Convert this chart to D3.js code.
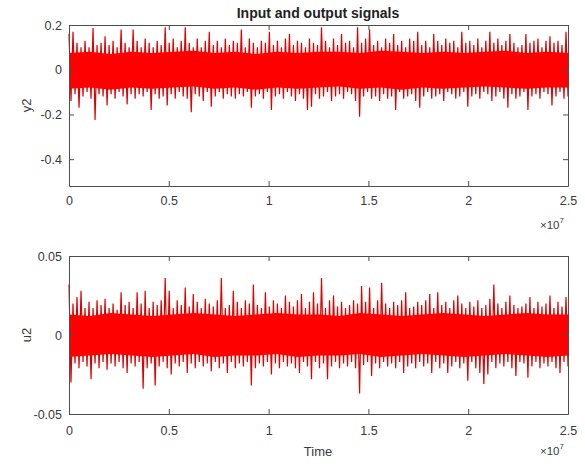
<!DOCTYPE html>
<html>
<head>
<meta charset="utf-8">
<script src="https://cdn.jsdelivr.net/npm/d3@7"></script>
<style>
  body { margin: 0; background: #fff; }
  svg { display: block; font-family: "Liberation Sans", Arial, sans-serif; }
</style>
</head>
<body>
<svg id="fig" width="585" height="471"></svg>
<script>
// time axis (samples), shared by both panels
const T_END = 2.5e7;
const xTicks = [0, 0.5e7, 1e7, 1.5e7, 2e7, 2.5e7];
const xTickLabels = ["0", "0.5", "1", "1.5", "2", "2.5"];

const y2Ticks = [-0.4, -0.2, 0, 0.2];
const y2TickLabels = ["-0.4", "-0.2", "0", "0.2"];
const u2Ticks = [-0.05, 0, 0.05];
const u2TickLabels = ["-0.05", "0", "0.05"];

// output y2: upper / lower extremes read per slice of the trace (125 slices)
const y2Hi = [
  0.16, 0.17, 0.12, 0.10, 0.13, 0.10, 0.186, 0.11, 0.12, 0.15,
  0.11, 0.13, 0.10, 0.18, 0.12, 0.10, 0.18, 0.13, 0.10, 0.14,
  0.12, 0.10, 0.13, 0.11, 0.19, 0.12, 0.14, 0.10, 0.13, 0.19,
  0.12, 0.10, 0.14, 0.10, 0.13, 0.17, 0.11, 0.13, 0.10, 0.14,
  0.11, 0.13, 0.12, 0.18, 0.10, 0.14, 0.12, 0.10, 0.13, 0.12,
  0.17, 0.11, 0.13, 0.10, 0.14, 0.16, 0.11, 0.13, 0.12, 0.10,
  0.14, 0.12, 0.11, 0.19, 0.13, 0.10, 0.14, 0.11, 0.16, 0.12,
  0.13, 0.10, 0.19, 0.12, 0.14, 0.18, 0.11, 0.13, 0.10, 0.14,
  0.12, 0.16, 0.11, 0.13, 0.10, 0.14, 0.13, 0.17, 0.11, 0.13,
  0.10, 0.16, 0.13, 0.11, 0.14, 0.12, 0.13, 0.10, 0.17, 0.12,
  0.13, 0.11, 0.14, 0.10, 0.13, 0.17, 0.12, 0.14, 0.11, 0.13,
  0.16, 0.12, 0.10, 0.11, 0.16, 0.12, 0.13, 0.14, 0.10, 0.13,
  0.15, 0.12, 0.13, 0.11, 0.17
];
const y2Lo = [
  -0.14, -0.11, -0.17, -0.12, -0.10, -0.13, -0.225, -0.11, -0.12, -0.16,
  -0.11, -0.13, -0.10, -0.12, -0.155, -0.11, -0.13, -0.11, -0.12, -0.10,
  -0.18, -0.11, -0.13, -0.12, -0.16, -0.11, -0.13, -0.10, -0.12, -0.13,
  -0.19, -0.11, -0.12, -0.14, -0.10, -0.165, -0.12, -0.10, -0.13, -0.11,
  -0.12, -0.13, -0.11, -0.12, -0.10, -0.17, -0.12, -0.11, -0.13, -0.10,
  -0.18, -0.12, -0.11, -0.13, -0.10, -0.12, -0.14, -0.11, -0.13, -0.18,
  -0.165, -0.11, -0.13, -0.12, -0.10, -0.14, -0.12, -0.11, -0.13, -0.10,
  -0.11, -0.14, -0.21, -0.12, -0.10, -0.13, -0.12, -0.14, -0.11, -0.13,
  -0.12, -0.18, -0.10, -0.13, -0.12, -0.11, -0.14, -0.17, -0.12, -0.10,
  -0.13, -0.12, -0.11, -0.14, -0.10, -0.11, -0.13, -0.12, -0.10, -0.165,
  -0.12, -0.11, -0.13, -0.10, -0.11, -0.14, -0.12, -0.10, -0.13, -0.17,
  -0.11, -0.13, -0.12, -0.10, -0.18, -0.12, -0.11, -0.13, -0.10, -0.11,
  -0.16, -0.12, -0.10, -0.13, -0.12
];
// solid centre of the y2 trace, per 1e6 samples (25 blocks)
const y2CoreHi = [
  0.075, 0.08, 0.07, 0.08, 0.075, 0.08, 0.085, 0.075, 0.08, 0.07,
  0.08, 0.075, 0.08, 0.08, 0.075, 0.085, 0.08, 0.075, 0.08, 0.075,
  0.08, 0.085, 0.075, 0.08, 0.075
];
const y2CoreLo = [
  -0.085, -0.08, -0.09, -0.08, -0.085, -0.08, -0.075, -0.085, -0.08, -0.09,
  -0.08, -0.085, -0.08, -0.075, -0.085, -0.08, -0.09, -0.08, -0.085, -0.08,
  -0.075, -0.08, -0.085, -0.08, -0.08
];

// input u2: same slicing
const u2Hi = [
  0.032, 0.020, 0.024, 0.028, 0.017, 0.021, 0.017, 0.022, 0.019, 0.023,
  0.017, 0.020, 0.016, 0.027, 0.019, 0.021, 0.017, 0.027, 0.020, 0.028,
  0.017, 0.021, 0.019, 0.022, 0.036, 0.028, 0.017, 0.022, 0.019, 0.030,
  0.018, 0.026, 0.021, 0.017, 0.023, 0.020, 0.018, 0.022, 0.036, 0.017,
  0.019, 0.028, 0.021, 0.017, 0.022, 0.020, 0.032, 0.019, 0.017, 0.027,
  0.018, 0.022, 0.020, 0.017, 0.025, 0.021, 0.018, 0.022, 0.026, 0.017,
  0.021, 0.027, 0.020, 0.036, 0.017, 0.022, 0.025, 0.018, 0.021, 0.017,
  0.019, 0.022, 0.020, 0.031, 0.021, 0.030, 0.017, 0.022, 0.033, 0.020,
  0.017, 0.021, 0.019, 0.022, 0.027, 0.017, 0.018, 0.021, 0.019, 0.022,
  0.026, 0.017, 0.027, 0.019, 0.021, 0.017, 0.022, 0.025, 0.020, 0.017,
  0.021, 0.018, 0.022, 0.017, 0.019, 0.023, 0.032, 0.020, 0.017, 0.021,
  0.025, 0.019, 0.017, 0.018, 0.020, 0.024, 0.017, 0.021, 0.018, 0.020,
  0.025, 0.017, 0.021, 0.018, 0.024
];
const u2Lo = [
  -0.030, -0.018, -0.021, -0.017, -0.020, -0.028, -0.018, -0.021, -0.017, -0.022,
  -0.018, -0.020, -0.017, -0.021, -0.024, -0.018, -0.020, -0.017, -0.034, -0.021,
  -0.018, -0.032, -0.020, -0.017, -0.021, -0.025, -0.018, -0.020, -0.017, -0.024,
  -0.018, -0.021, -0.017, -0.020, -0.018, -0.023, -0.017, -0.021, -0.018, -0.024,
  -0.017, -0.021, -0.018, -0.020, -0.017, -0.032, -0.021, -0.018, -0.020, -0.017,
  -0.025, -0.018, -0.021, -0.017, -0.020, -0.018, -0.021, -0.024, -0.017, -0.020,
  -0.028, -0.017, -0.021, -0.018, -0.028, -0.020, -0.017, -0.021, -0.018, -0.020,
  -0.017, -0.021, -0.037, -0.019, -0.017, -0.026, -0.018, -0.021, -0.017, -0.020,
  -0.018, -0.021, -0.017, -0.024, -0.020, -0.018, -0.021, -0.017, -0.020, -0.018,
  -0.024, -0.017, -0.021, -0.018, -0.024, -0.020, -0.017, -0.021, -0.018, -0.029,
  -0.017, -0.021, -0.024, -0.031, -0.025, -0.017, -0.021, -0.018, -0.020, -0.017,
  -0.021, -0.026, -0.017, -0.018, -0.027, -0.020, -0.017, -0.021, -0.018, -0.020,
  -0.017, -0.021, -0.024, -0.017, -0.020
];
const u2CoreHi = [
  0.013, 0.012, 0.014, 0.013, 0.012, 0.013, 0.014, 0.013, 0.012, 0.013,
  0.014, 0.013, 0.013, 0.012, 0.014, 0.013, 0.012, 0.013, 0.014, 0.013,
  0.012, 0.013, 0.014, 0.013, 0.013
];
const u2CoreLo = [
  -0.014, -0.013, -0.012, -0.013, -0.014, -0.013, -0.012, -0.014, -0.013, -0.013,
  -0.012, -0.014, -0.013, -0.013, -0.012, -0.014, -0.013, -0.012, -0.013, -0.014,
  -0.013, -0.012, -0.013, -0.014, -0.013
];

const svg = d3.select("#fig");
const AXIS_COLOR = "#4d4d4d";
const TEXT_COLOR = "#3a3a3a";

const x = d3.scaleLinear().domain([0, T_END]).range([69, 568]);

// zigzag between the upper and lower extreme of each slice, like the dense trace
function tracePoints(hi, lo) {
  const n = hi.length * 2;
  const pts = [];
  hi.forEach((h, i) => {
    pts.push([(2 * i) * T_END / (n - 1), h]);
    pts.push([(2 * i + 1) * T_END / (n - 1), lo[i]]);
  });
  return pts;
}

function corePoints(hi, lo) {
  return hi.map((h, i) => ({ t: i * T_END / (hi.length - 1), hi: h, lo: lo[i] }));
}

function drawPanel(p) {
  const y = d3.scaleLinear().domain(p.yDomain).range([p.bottom, p.top]);
  const g = svg.append("g");

  const line = d3.line().x(d => x(d[0])).y(d => y(d[1]));
  g.append("path")
    .datum(tracePoints(p.hi, p.lo))
    .attr("fill", "none")
    .attr("stroke", "#e00000")
    .attr("stroke-width", 1.2)
    .attr("d", line);

  // dense centre of the trace, drawn on top so it stays pure red
  const area = d3.area().x(d => x(d.t)).y0(d => y(d.lo)).y1(d => y(d.hi));
  g.append("path")
    .datum(corePoints(p.coreHi, p.coreLo))
    .attr("fill", "#ff0000")
    .attr("d", area);

  // box with inward ticks on all four sides
  const bottomAxis = d3.axisBottom(x).tickValues(xTicks)
    .tickFormat((d, i) => xTickLabels[i]).tickSizeInner(-5).tickSizeOuter(0).tickPadding(p.xPad);
  const topAxis = d3.axisTop(x).tickValues(xTicks).tickFormat("").tickSizeInner(-5).tickSizeOuter(0);
  const leftAxis = d3.axisLeft(y).tickValues(p.yTicks)
    .tickFormat((d, i) => p.yTickLabels[i]).tickSizeInner(-5).tickSizeOuter(0).tickPadding(7);
  const rightAxis = d3.axisRight(y).tickValues(p.yTicks).tickFormat("").tickSizeInner(-5).tickSizeOuter(0);

  g.append("g").attr("transform", `translate(0,${p.bottom})`).call(bottomAxis);
  g.append("g").attr("transform", `translate(0,${p.top})`).call(topAxis);
  g.append("g").attr("transform", `translate(69,0)`).call(leftAxis);
  g.append("g").attr("transform", `translate(568,0)`).call(rightAxis);

  g.selectAll(".domain").attr("stroke", AXIS_COLOR).attr("stroke-width", 1);
  g.selectAll(".tick line").attr("stroke", AXIS_COLOR);
  g.selectAll(".tick text").attr("fill", TEXT_COLOR).attr("font-size", 12.5);

  g.append("text")
    .attr("transform", `translate(31,${(p.top + p.bottom) / 2}) rotate(-90)`)
    .attr("text-anchor", "middle")
    .attr("fill", TEXT_COLOR)
    .attr("font-size", 13)
    .text(p.yLabel);

  // exponent for the time axis
  const ex = g.append("text")
    .attr("x", 540).attr("y", p.bottom + p.expDy)
    .attr("fill", TEXT_COLOR)
    .attr("font-size", 11.5);
  ex.append("tspan").text("\u00d710");
  ex.append("tspan").attr("font-size", 8).attr("dy", -6).text("7");

  return g;
}

drawPanel({
  top: 25, bottom: 186, yDomain: [-0.52, 0.2],
  yTicks: y2Ticks, yTickLabels: y2TickLabels,
  hi: y2Hi, lo: y2Lo, coreHi: y2CoreHi, coreLo: y2CoreLo,
  yLabel: "y2", xPad: 10, expDy: 43
});

drawPanel({
  top: 256, bottom: 414, yDomain: [-0.05, 0.05],
  yTicks: u2Ticks, yTickLabels: u2TickLabels,
  hi: u2Hi, lo: u2Lo, coreHi: u2CoreHi, coreLo: u2CoreLo,
  yLabel: "u2", xPad: 12, expDy: 41
});

svg.append("text")
  .attr("x", 318).attr("y", 18)
  .attr("text-anchor", "middle")
  .attr("font-weight", "bold")
  .attr("font-size", 14)
  .attr("fill", "#222")
  .text("Input and output signals");

svg.append("text")
  .attr("x", 318).attr("y", 456)
  .attr("text-anchor", "middle")
  .attr("font-size", 13)
  .attr("fill", TEXT_COLOR)
  .text("Time");
</script>
</body>
</html>
